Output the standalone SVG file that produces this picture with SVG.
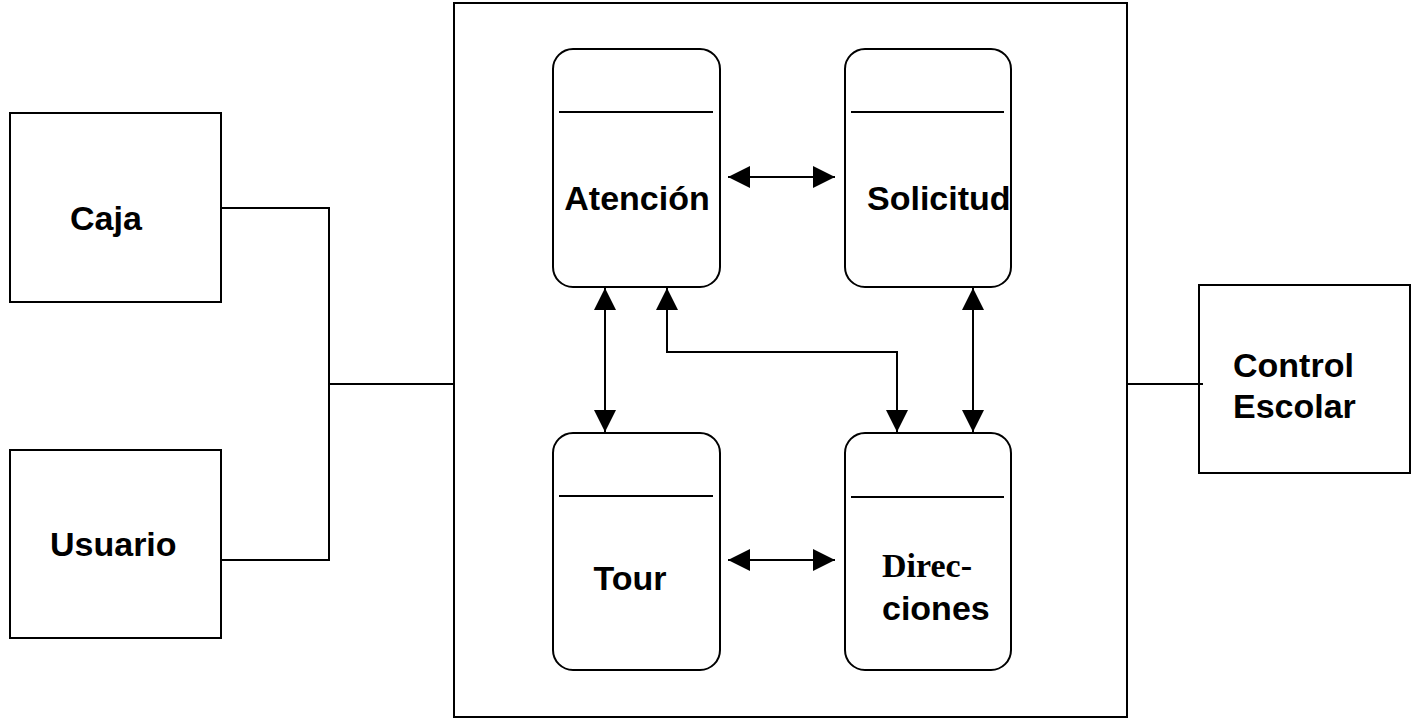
<svg xmlns="http://www.w3.org/2000/svg" width="1413" height="724" viewBox="0 0 1413 724">
  <defs>
    <marker id="arrow" viewBox="0 0 22 22" refX="22" refY="11" markerWidth="22" markerHeight="22" markerUnits="userSpaceOnUse" orient="auto-start-reverse">
      <path d="M0,0 L22,11 L0,22 Z" fill="#000"/>
    </marker>
  </defs>
  <style>
    .box { fill: #fff; stroke: #000; stroke-width: 2; }
    .sep { stroke: #000; stroke-width: 2; }
    .wire { fill: none; stroke: #000; stroke-width: 2; }
    .flow { fill: none; stroke: #000; stroke-width: 2; marker-start: url(#arrow); marker-end: url(#arrow); }
    .flow1 { fill: none; stroke: #000; stroke-width: 2; marker-start: url(#arrow); marker-end: url(#arrow); }
    .lbl { font-family: "Liberation Sans", Arial, sans-serif; font-weight: bold; font-size: 34px; fill: #000; }
    .lbl-serif { font-family: "Liberation Serif", "Times New Roman", serif; font-weight: bold; font-size: 34px; fill: #000; }
  </style>
  <rect width="1413" height="724" fill="#fff"/>

  <!-- system boundary -->
  <g id="system">
    <rect class="box" x="454" y="3" width="673" height="714"/>
  </g>

  <!-- external actors -->
  <g id="caja">
    <rect class="box" x="10" y="113" width="211" height="189"/>
    <text class="lbl" x="70" y="230">Caja</text>
  </g>
  <g id="usuario">
    <rect class="box" x="10" y="450" width="211" height="188"/>
    <text class="lbl" x="50" y="556">Usuario</text>
  </g>
  <g id="control-escolar">
    <rect class="box" x="1199" y="285" width="211" height="188"/>
    <text class="lbl" x="1233" y="377">Control</text>
    <text class="lbl" x="1233" y="418">Escolar</text>
  </g>

  <!-- internal modules -->
  <g id="atencion">
    <rect class="box" x="553" y="49" width="167" height="238" rx="20" ry="20"/>
    <line class="sep" x1="559" y1="112" x2="713" y2="112"/>
    <text class="lbl" x="637" y="210" text-anchor="middle">Atención</text>
  </g>
  <g id="solicitud">
    <rect class="box" x="845" y="49" width="166" height="238" rx="20" ry="20"/>
    <line class="sep" x1="851" y1="112" x2="1004" y2="112"/>
    <text class="lbl" x="867" y="210">Solicitud</text>
  </g>
  <g id="tour">
    <rect class="box" x="553" y="433" width="167" height="237" rx="20" ry="20"/>
    <line class="sep" x1="559" y1="496" x2="713" y2="496"/>
    <text class="lbl" x="630" y="590" text-anchor="middle">Tour</text>
  </g>
  <g id="direcciones">
    <rect class="box" x="845" y="433" width="166" height="237" rx="20" ry="20"/>
    <line class="sep" x1="851" y1="497" x2="1004" y2="497"/>
    <text class="lbl-serif" x="882" y="577">Direc-</text>
    <text class="lbl" x="882" y="620">ciones</text>
  </g>

  <!-- connectors -->
  <g id="connectors">
    <polyline class="wire" points="221,208 329,208 329,560 221,560"/>
    <line class="wire" x1="329" y1="384" x2="454" y2="384"/>
    <line class="wire" x1="1127" y1="384" x2="1203" y2="384"/>
    <line class="flow" x1="728" y1="177" x2="835" y2="177"/>
    <line class="flow" x1="728" y1="560" x2="835" y2="560"/>
    <line class="flow" x1="605" y1="288" x2="605" y2="432"/>
    <line class="flow" x1="973" y1="288" x2="973" y2="432"/>
    <polyline class="flow" points="667,288 667,352 897,352 897,432"/>
  </g>
</svg>
